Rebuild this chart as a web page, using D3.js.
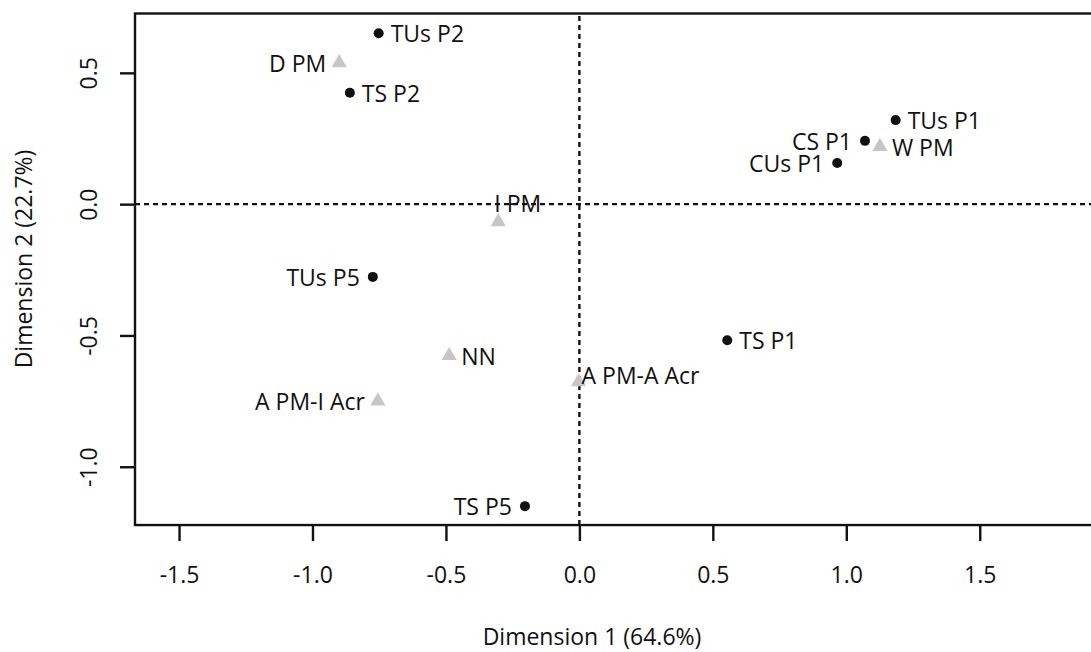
<!DOCTYPE html>
<html>
<head>
<meta charset="utf-8">
<script src="https://cdn.jsdelivr.net/npm/d3@7"></script>
<style>
  html, body { margin: 0; padding: 0; background: #fff; }
  svg text { font-family: "Open Sans", "Noto Sans", sans-serif; fill: #111; }
</style>
</head>
<body>
<svg id="chart" width="1091" height="652"></svg>
<script>
// CA biplot: row points (black dots) and column points (grey triangles)
var rowNames = ['TUs P2', 'TS P2', 'TUs P1', 'CS P1', 'CUs P1', 'TUs P5', 'TS P1', 'TS P5'];
var rowDim1  = [-0.752, -0.860, 1.185, 1.070, 0.966, -0.774, 0.554, -0.204];
var rowDim2  = [0.651, 0.424, 0.320, 0.241, 0.157, -0.277, -0.518, -1.150];
var rowSide  = ['r', 'r', 'r', 'l', 'l', 'l', 'r', 'l'];

var colNames = ['D PM', 'W PM', 'I PM', 'NN', 'A PM-A Acr', 'A PM-I Acr'];
var colDim1  = [-0.900, 1.126, -0.304, -0.488, -0.003, -0.755];
var colDim2  = [0.538, 0.219, -0.067, -0.577, -0.677, -0.750];
var colSide  = ['l', 'r', 'up', 'r', 'upr', 'l'];

var xTicks = [-1.5, -1.0, -0.5, 0.0, 0.5, 1.0, 1.5];
var yTicks = [-1.0, -0.5, 0.0, 0.5];
var xTitle = 'Dimension 1 (64.6%)';
var yTitle = 'Dimension 2 (22.7%)';

var xLim = [-1.665, 1.93];
var yLim = [-1.222, 0.726];

var svg = d3.select('#chart');
var plotLeft = 135, plotTop = 13.5;
var x = d3.scaleLinear().domain(xLim).range([plotLeft, plotLeft + (xLim[1] - xLim[0]) * 266.9]);
var y = d3.scaleLinear().domain(yLim).range([plotTop + (yLim[1] - yLim[0]) * 262.6, plotTop]);
var plotBottom = y(yLim[0]);
var fs = 23;
var fmt = function(d) { return d3.format('.1f')(d).replace('\u2212', '-'); };

// frame (right edge falls outside the window)
svg.append('rect')
  .attr('x', x(xLim[0])).attr('y', y(yLim[1]))
  .attr('width', x(xLim[1]) - x(xLim[0]))
  .attr('height', y(yLim[0]) - y(yLim[1]))
  .attr('fill', 'none').attr('stroke', '#111').attr('stroke-width', 2.4);

// axes
var xAxis = svg.append('g').attr('transform', 'translate(0,' + plotBottom + ')')
  .call(d3.axisBottom(x).tickValues(xTicks).tickSize(16).tickPadding(26).tickFormat(fmt));
var yAxis = svg.append('g').attr('transform', 'translate(' + plotLeft + ',0)')
  .call(d3.axisLeft(y).tickValues(yTicks).tickSize(15).tickFormat(fmt));
[xAxis, yAxis].forEach(function(g) {
  g.attr('font-family', null).attr('font-size', null);
  g.select('.domain').remove();
  g.selectAll('.tick line').attr('stroke', '#111').attr('stroke-width', 2.4);
  g.selectAll('.tick text').attr('font-size', fs).attr('fill', '#111');
});
yAxis.selectAll('.tick text')
  .attr('x', null).attr('dy', null)
  .attr('text-anchor', 'middle')
  .attr('dominant-baseline', 'central')
  .attr('transform', 'translate(-47,0) rotate(-90)');

// reference lines at zero
svg.append('line')
  .attr('x1', x(xLim[0])).attr('x2', x(xLim[1])).attr('y1', y(0)).attr('y2', y(0))
  .attr('stroke', '#111').attr('stroke-width', 2.4).attr('stroke-dasharray', '5,4');
svg.append('line')
  .attr('x1', x(0)).attr('x2', x(0)).attr('y1', y(yLim[0])).attr('y2', y(yLim[1]))
  .attr('stroke', '#111').attr('stroke-width', 2.4).attr('stroke-dasharray', '5,4');

// titles
svg.append('text').attr('x', 592).attr('y', 636)
  .attr('text-anchor', 'middle').attr('dominant-baseline', 'central')
  .attr('font-size', fs).text(xTitle);
svg.append('text')
  .attr('transform', 'translate(23,259) rotate(-90)')
  .attr('text-anchor', 'middle').attr('dominant-baseline', 'central')
  .attr('font-size', fs).text(yTitle);

function labelAttrs(sel, side) {
  sel.attr('dominant-baseline', 'central').attr('font-size', fs);
  if (side === 'r') sel.attr('dx', 12).attr('text-anchor', 'start');
  else if (side === 'l') sel.attr('dx', -13).attr('text-anchor', 'end');
  else if (side === 'up') sel.attr('dx', -4).attr('dy', -19).attr('text-anchor', 'start');
  else if (side === 'upr') sel.attr('dx', 3).attr('dy', -7).attr('text-anchor', 'start');
}

// column points: grey triangles
var tri = d3.symbol().type(d3.symbolTriangle).size(100);
colNames.forEach(function(name, i) {
  var px = x(colDim1[i]), py = y(colDim2[i]);
  svg.append('path').attr('d', tri)
    .attr('transform', 'translate(' + px + ',' + py + ')')
    .attr('fill', '#c9c5c5');
  var t = svg.append('text').attr('x', px).attr('y', py).text(name);
  labelAttrs(t, colSide[i]);
});

// row points: black dots
rowNames.forEach(function(name, i) {
  var px = x(rowDim1[i]), py = y(rowDim2[i]);
  svg.append('circle').attr('cx', px).attr('cy', py).attr('r', 5).attr('fill', '#111');
  var t = svg.append('text').attr('x', px).attr('y', py).text(name);
  labelAttrs(t, rowSide[i]);
});
</script>
</body>
</html>
